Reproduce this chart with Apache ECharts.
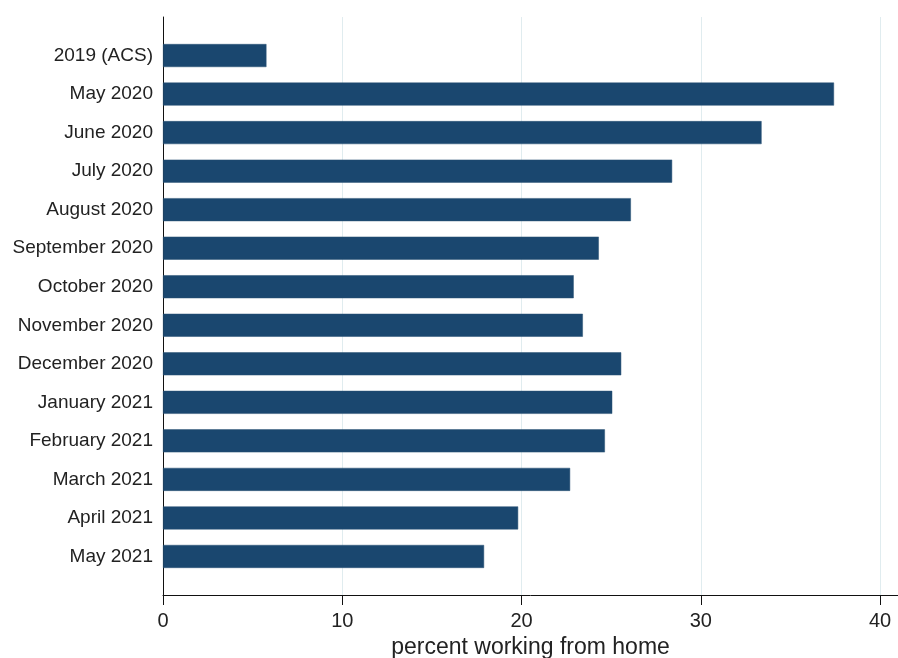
<!DOCTYPE html>
<html>
<head>
<meta charset="utf-8">
<script src="https://cdn.jsdelivr.net/npm/echarts@6/dist/echarts.min.js"></script>
<style>html,body{margin:0;padding:0;background:#fff}#c{width:898px;height:658px}</style>
</head>
<body>
<div id="c"></div>
<script>
const categories = ['2019 (ACS)','May 2020','June 2020','July 2020','August 2020','September 2020','October 2020','November 2020','December 2020','January 2021','February 2021','March 2021','April 2021','May 2021'];
const values = [5.77, 37.43, 33.39, 28.40, 26.10, 24.31, 22.91, 23.42, 25.56, 25.06, 24.65, 22.71, 19.81, 17.91];
const xTicks = [0, 10, 20, 30, 40];
const xTitle = 'percent working from home';

// pad with empty slots at both ends so axis extends beyond first/last bar
const cats = [' '].concat(categories, ['  ']);
const vals = [null].concat(values, [null]);

const chart = echarts.init(document.getElementById('c'), null, {renderer: 'canvas'});
chart.setOption({
  backgroundColor: '#fff',
  animation: false,
  textStyle: {fontFamily: 'Liberation Sans, Arial, sans-serif'},
  grid: {left: 163, right: 0, top: 17, bottom: 63, containLabel: false, outerBoundsMode: 'none'},
  xAxis: {
    type: 'value', min: 0, max: 41, interval: 10,
    axisLine: {show: true, lineStyle: {color: '#111', width: 1}},
    axisTick: {show: true, length: 10, lineStyle: {color: '#111'}, customValues: xTicks},
    axisLabel: {fontSize: 20, color: '#222', margin: 16, customValues: xTicks},
    splitLine: {show: true, lineStyle: {color: '#e0ecef', width: 1}},
    name: xTitle, nameLocation: 'middle', nameGap: 41,
    nameTextStyle: {fontSize: 23, color: '#222'}
  },
  yAxis: {
    type: 'category', data: cats, inverse: true, boundaryGap: false,
    axisLine: {show: true, lineStyle: {color: '#111', width: 1}},
    axisTick: {show: false},
    axisLabel: {fontSize: 19, color: '#222', margin: 10},
    splitLine: {show: false}
  },
  series: [{
    type: 'bar', data: vals, barWidth: 23,
    itemStyle: {color: '#1a476f', borderColor: '#2a5274', borderWidth: 0.5}
  }]
});
</script>
</body>
</html>
